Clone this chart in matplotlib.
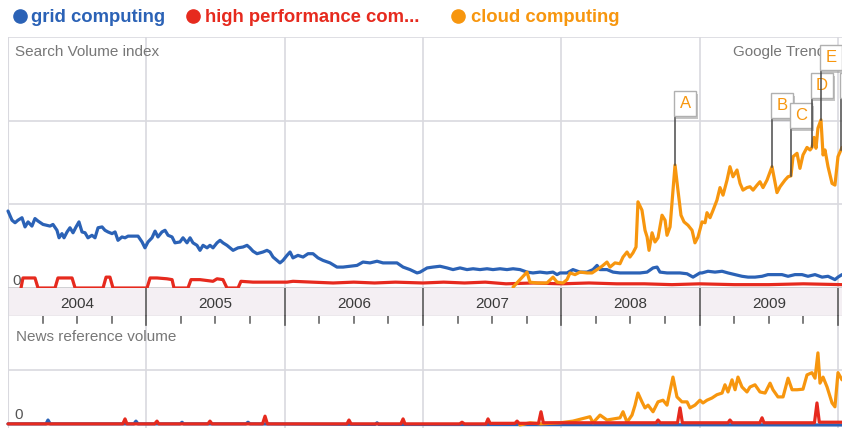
import matplotlib
matplotlib.use("Agg")
import matplotlib.pyplot as plt
import matplotlib.transforms as mtransforms
from matplotlib.lines import Line2D
from matplotlib.patches import Rectangle
import numpy as np

plt.rcParams["font.family"] = ["Liberation Sans", "DejaVu Sans"]

W, H = 842, 428
X0, X1 = 2004.0, 2010.029

BLUE = "#2b62b6"
RED = "#e62a1e"
ORANGE = "#f7960e"
GRID = "#d9d9df"

series_names = ["grid computing", "high performance com...", "cloud computing"]
years = [2004, 2005, 2006, 2007, 2008, 2009]

# search volume index (top panel)
grid_dates = [
    2004.000, 2004.029, 2004.051, 2004.072, 2004.101, 2004.123, 2004.145, 2004.173, 2004.195, 2004.217,
    2004.253, 2004.304, 2004.325, 2004.354, 2004.369, 2004.390, 2004.405, 2004.427, 2004.448, 2004.470,
    2004.492, 2004.513, 2004.535, 2004.557, 2004.578, 2004.607, 2004.629, 2004.651, 2004.680, 2004.701,
    2004.723, 2004.752, 2004.774, 2004.795, 2004.824, 2004.846, 2004.868, 2004.904, 2004.940, 2004.969,
    2004.990, 2005.012, 2005.041, 2005.063, 2005.084, 2005.113, 2005.135, 2005.157, 2005.186, 2005.207,
    2005.243, 2005.265, 2005.294, 2005.316, 2005.337, 2005.366, 2005.388, 2005.410, 2005.439, 2005.460,
    2005.482, 2005.511, 2005.533, 2005.554, 2005.583, 2005.605, 2005.627, 2005.663, 2005.699, 2005.728,
    2005.749, 2005.771, 2005.800, 2005.822, 2005.843, 2005.872, 2005.894, 2005.916, 2005.945, 2005.966,
    2005.988, 2006.017, 2006.039, 2006.060, 2006.096, 2006.133, 2006.169, 2006.205, 2006.241, 2006.277,
    2006.328, 2006.378, 2006.422, 2006.472, 2006.523, 2006.566, 2006.617, 2006.668, 2006.711, 2006.762,
    2006.812, 2006.856, 2006.906, 2006.957, 2006.979, 2007.030, 2007.072, 2007.123, 2007.174, 2007.217,
    2007.268, 2007.318, 2007.362, 2007.412, 2007.463, 2007.506, 2007.557, 2007.607, 2007.651, 2007.701,
    2007.752, 2007.795, 2007.846, 2007.896, 2007.940, 2007.969, 2007.991, 2008.041, 2008.084, 2008.135,
    2008.186, 2008.229, 2008.258, 2008.280, 2008.330, 2008.374, 2008.424, 2008.475, 2008.518, 2008.569,
    2008.620, 2008.663, 2008.692, 2008.713, 2008.764, 2008.807, 2008.858, 2008.909, 2008.952, 2009.002,
    2009.017, 2009.060, 2009.111, 2009.162, 2009.205, 2009.256, 2009.306, 2009.350, 2009.400, 2009.451,
    2009.494, 2009.545, 2009.595, 2009.639, 2009.689, 2009.740, 2009.783, 2009.834, 2009.885, 2009.928,
    2009.978, 2010.000, 2010.029,
]
grid_index = [
    0.92, 0.81, 0.78, 0.81, 0.84, 0.73, 0.79, 0.74, 0.83, 0.80,
    0.76, 0.74, 0.76, 0.69, 0.60, 0.65, 0.60, 0.67, 0.72, 0.66,
    0.73, 0.79, 0.67, 0.66, 0.60, 0.63, 0.60, 0.72, 0.73, 0.69,
    0.67, 0.65, 0.67, 0.57, 0.61, 0.60, 0.62, 0.62, 0.62, 0.55,
    0.48, 0.55, 0.60, 0.68, 0.61, 0.67, 0.69, 0.63, 0.61, 0.54,
    0.55, 0.60, 0.54, 0.60, 0.54, 0.51, 0.45, 0.51, 0.48, 0.51,
    0.48, 0.54, 0.57, 0.54, 0.51, 0.48, 0.45, 0.48, 0.49, 0.51,
    0.48, 0.44, 0.41, 0.42, 0.43, 0.45, 0.43, 0.37, 0.33, 0.30,
    0.33, 0.39, 0.43, 0.36, 0.39, 0.37, 0.41, 0.41, 0.36, 0.33,
    0.30, 0.25, 0.25, 0.26, 0.27, 0.31, 0.30, 0.32, 0.30, 0.30,
    0.30, 0.25, 0.22, 0.18, 0.19, 0.24, 0.25, 0.26, 0.24, 0.22,
    0.24, 0.22, 0.23, 0.22, 0.23, 0.22, 0.23, 0.22, 0.23, 0.22,
    0.19, 0.18, 0.19, 0.18, 0.19, 0.16, 0.18, 0.18, 0.22, 0.19,
    0.19, 0.22, 0.27, 0.22, 0.22, 0.19, 0.18, 0.18, 0.18, 0.18,
    0.19, 0.24, 0.25, 0.19, 0.18, 0.18, 0.18, 0.17, 0.13, 0.18,
    0.18, 0.20, 0.19, 0.20, 0.18, 0.16, 0.14, 0.13, 0.13, 0.14,
    0.16, 0.16, 0.16, 0.14, 0.16, 0.16, 0.14, 0.16, 0.13, 0.14,
    0.10, 0.13, 0.16,
]

hpc_dates = [
    2004.094, 2004.108, 2004.195, 2004.217, 2004.340, 2004.361, 2004.463, 2004.485, 2004.687, 2004.709,
    2004.737, 2004.759, 2005.005, 2005.027, 2005.077, 2005.149, 2005.186, 2005.200, 2005.301, 2005.323,
    2005.388, 2005.482, 2005.511, 2005.554, 2005.583, 2005.663, 2005.684, 2005.771, 2005.872, 2006.017,
    2006.060, 2006.200, 2006.350, 2006.500, 2006.650, 2006.800, 2007.000, 2007.150, 2007.300, 2007.450,
    2007.600, 2007.800, 2008.000, 2008.200, 2008.400, 2008.600, 2008.800, 2009.000, 2009.250, 2009.500,
    2009.750, 2010.029,
]
hpc_index = [
    0.00, 0.12, 0.12, 0.00, 0.00, 0.12, 0.12, 0.00, 0.00, 0.13,
    0.13, 0.00, 0.00, 0.12, 0.12, 0.11, 0.10, 0.00, 0.00, 0.10,
    0.10, 0.08, 0.11, 0.10, 0.00, 0.00, 0.08, 0.07, 0.07, 0.07,
    0.08, 0.07, 0.06, 0.07, 0.06, 0.07, 0.06, 0.07, 0.06, 0.07,
    0.05, 0.06, 0.05, 0.06, 0.05, 0.05, 0.04, 0.05, 0.04, 0.04,
    0.05, 0.04,
]

cloud_dates = [
    2007.651, 2007.701, 2007.752, 2007.773, 2007.824, 2007.868, 2007.896, 2007.940, 2007.969, 2008.012,
    2008.041, 2008.063, 2008.099, 2008.135, 2008.186, 2008.222, 2008.258, 2008.294, 2008.330, 2008.352,
    2008.388, 2008.424, 2008.446, 2008.475, 2008.496, 2008.518, 2008.540, 2008.554, 2008.583, 2008.605,
    2008.620, 2008.634, 2008.656, 2008.677, 2008.699, 2008.728, 2008.750, 2008.764, 2008.786, 2008.822,
    2008.843, 2008.865, 2008.887, 2008.916, 2008.945, 2008.966, 2008.988, 2009.017, 2009.039, 2009.053,
    2009.075, 2009.097, 2009.125, 2009.147, 2009.169, 2009.198, 2009.219, 2009.241, 2009.270, 2009.292,
    2009.313, 2009.342, 2009.364, 2009.386, 2009.415, 2009.436, 2009.458, 2009.487, 2009.523, 2009.559,
    2009.581, 2009.617, 2009.639, 2009.660, 2009.675, 2009.704, 2009.725, 2009.747, 2009.776, 2009.798,
    2009.812, 2009.827, 2009.841, 2009.855, 2009.877, 2009.892, 2009.906, 2009.928, 2009.957, 2009.978,
    2010.000, 2010.029,
]
cloud_index = [
    0.01, 0.10, 0.19, 0.07, 0.06, 0.06, 0.06, 0.13, 0.07, 0.06,
    0.10, 0.18, 0.16, 0.19, 0.18, 0.18, 0.22, 0.26, 0.31, 0.25,
    0.30, 0.29, 0.37, 0.43, 0.37, 0.42, 0.49, 1.03, 0.93, 0.69,
    0.61, 0.45, 0.66, 0.55, 0.60, 0.87, 0.81, 0.63, 0.73, 1.47,
    1.17, 0.87, 0.79, 0.75, 0.69, 0.54, 0.61, 0.79, 0.78, 0.90,
    0.84, 0.93, 1.05, 1.20, 1.11, 1.29, 1.45, 1.33, 1.41, 1.25,
    1.17, 1.20, 1.21, 1.17, 1.23, 1.27, 1.20, 1.29, 1.45, 1.14,
    1.21, 1.29, 1.33, 1.34, 1.57, 1.61, 1.43, 1.59, 1.68, 1.65,
    1.68, 1.80, 1.67, 1.91, 2.01, 1.59, 1.65, 1.45, 1.25, 1.23,
    1.57, 1.68,
]

# news events flagged on the cloud computing line
flag_labels = ["A", "B", "C", "D", "E", "F"]
flag_dates = [2008.822, 2009.523, 2009.660, 2009.812, 2009.877, 2010.022]
flag_heights = [2.06, 2.03, 1.91, 2.27, 2.61, 2.27]

# news reference volume (bottom panel)
news_grid_dates = [2004.0, 2004.275, 2004.289, 2004.305, 2004.91, 2004.925, 2004.94,
                   2005.245, 2005.258, 2005.27, 2005.72, 2005.735, 2005.75, 2006.655, 2006.668,
                   2006.68, 2010.029]
news_grid_vol = [0.02, 0.02, 0.09, 0.02, 0.02, 0.07, 0.02,
                 0.02, 0.05, 0.02, 0.02, 0.05, 0.02, 0.01, 0.04,
                 0.01, 0.0]

news_hpc_dates = [
    2004.0, 2004.83, 2004.846, 2004.86, 2005.06, 2005.077, 2005.09, 2005.445, 2005.46, 2005.475,
    2005.84, 2005.858, 2005.875, 2006.45, 2006.465, 2006.48, 2006.84, 2006.856, 2006.87, 2007.265,
    2007.282, 2007.3, 2007.455, 2007.47, 2007.485, 2007.665, 2007.68, 2007.695, 2007.835, 2007.853,
    2007.87, 2008.685, 2008.699, 2008.715, 2008.84, 2008.858, 2008.875, 2009.205, 2009.219, 2009.235,
    2009.435, 2009.451, 2009.465, 2009.83, 2009.848, 2009.865, 2010.029,
]
news_hpc_vol = [
    0.02, 0.02, 0.11, 0.02, 0.02, 0.07, 0.02, 0.02, 0.07, 0.02,
    0.02, 0.16, 0.02, 0.02, 0.09, 0.02, 0.02, 0.11, 0.02, 0.02,
    0.05, 0.02, 0.02, 0.11, 0.03, 0.03, 0.07, 0.03, 0.03, 0.24,
    0.04, 0.04, 0.09, 0.04, 0.04, 0.31, 0.04, 0.04, 0.09, 0.04,
    0.04, 0.13, 0.04, 0.04, 0.40, 0.05, 0.05,
]

news_cloud_dates = [
    2007.700, 2007.774, 2007.850, 2007.991, 2008.084, 2008.207, 2008.229, 2008.280, 2008.330, 2008.424,
    2008.446, 2008.475, 2008.511, 2008.533, 2008.554, 2008.583, 2008.605, 2008.627, 2008.663, 2008.699,
    2008.735, 2008.764, 2008.807, 2008.836, 2008.872, 2008.909, 2008.930, 2008.966, 2009.002, 2009.024,
    2009.053, 2009.089, 2009.125, 2009.162, 2009.183, 2009.205, 2009.234, 2009.256, 2009.277, 2009.306,
    2009.342, 2009.364, 2009.400, 2009.436, 2009.473, 2009.509, 2009.530, 2009.566, 2009.603, 2009.639,
    2009.668, 2009.704, 2009.747, 2009.776, 2009.812, 2009.834, 2009.855, 2009.870, 2009.892, 2009.921,
    2009.957, 2009.978, 2010.000, 2010.029,
]
news_cloud_vol = [
    0.00, 0.04, 0.02, 0.04, 0.07, 0.15, 0.04, 0.18, 0.09, 0.13,
    0.24, 0.05, 0.18, 0.36, 0.58, 0.42, 0.31, 0.36, 0.24, 0.42,
    0.45, 0.36, 0.87, 0.51, 0.42, 0.42, 0.31, 0.36, 0.45, 0.40,
    0.45, 0.49, 0.55, 0.58, 0.73, 0.60, 0.82, 0.64, 0.87, 0.69,
    0.60, 0.69, 0.73, 0.60, 0.58, 0.76, 0.64, 0.51, 0.51, 0.85,
    0.64, 0.64, 0.65, 0.91, 0.95, 0.85, 1.31, 0.76, 0.87, 0.69,
    0.40, 0.33, 0.95, 0.82,
]


def box(x0, y0, x1, y1):
    # pixel box (top-left origin) -> figure fraction rect
    return [x0 / W, 1 - y1 / H, (x1 - x0) / W, (y1 - y0) / H]


fig = plt.figure(figsize=(W / 100, H / 100), dpi=100)
fig.patch.set_facecolor("white")

ax = fig.add_axes(box(8, 37, W, 288))
band = fig.add_axes(box(8, 288, W, 316))
news = fig.add_axes(box(8, 316, W, 428))

for a in (ax, band, news):
    a.set_xlim(X0, X1)
    a.axis("off")
ax.set_ylim(0, 3)
band.set_ylim(0, 1)
news.set_ylim(-0.055, 1.98)

# grid lines
for a, levels in ((ax, [1, 2, 3]), (news, [1])):
    for lv in levels:
        a.axhline(lv, color=GRID, lw=1.2, zorder=0)
    for yr in years[1:] + [2010]:
        a.axvline(yr, color=GRID, lw=1.2, zorder=0)
    a.axvline(X0, color=GRID, lw=1.5, zorder=0)
ax.axhline(0, color="#c8c8cc", lw=1.2, zorder=0)

# date band
band.axhspan(0, 1, color="#f4eff3", zorder=0)
band.axhline(0, color="#cfcfd4", lw=1)
band.axvline(X0, color=GRID, lw=1.5)
for yr in years:
    band.text(yr + 0.5, 0.42, str(yr), ha="center", va="center", fontsize=11, color="#3a3a3a")
xt = news.get_xaxis_transform()
for yr in years[1:] + [2010]:
    band.axvline(yr, color="#5a5a5a", lw=1.2)
    news.plot([yr, yr], [1.0, 1 - 9 / 112], transform=xt, color="#5a5a5a", lw=1.2, clip_on=False)
for yr in years:
    for q in (0.25, 0.5, 0.75):
        news.plot([yr + q, yr + q], [1.0, 1 - 7 / 112], transform=xt, color="#5a5a5a", lw=1.1)

# series
lk = dict(lw=2.3, solid_joinstyle="round", solid_capstyle="round", clip_on=False)
ax.plot(grid_dates, grid_index, color=BLUE, zorder=3, **lk)
ax.plot(hpc_dates, hpc_index, color=RED, zorder=4, **lk)
ax.plot(cloud_dates, cloud_index, color=ORANGE, zorder=5, **lk)

news.plot(news_grid_dates, news_grid_vol, color=BLUE, zorder=3, **lk)
news.plot(news_cloud_dates, news_cloud_vol, color=ORANGE, zorder=4, **lk)
news.plot(news_hpc_dates, news_hpc_vol, color=RED, zorder=5, **lk)

# panel captions
ax.text(0.0108, 0.028, "0", transform=ax.transAxes, ha="center", va="center", fontsize=11, color="#555")
news.text(0.013, 0.116, "0", transform=news.transAxes, ha="center", va="center", fontsize=11, color="#555")
ax.text(15 / W, 1 - 52 / H, "Search Volume index", transform=fig.transFigure, ha="left", va="center",
        fontsize=11, color="#777", zorder=1, clip_on=False)
news.text(16 / W, 1 - 337 / H, "News reference volume", transform=fig.transFigure, ha="left",
          va="center", fontsize=11, color="#777", zorder=1, clip_on=False)
ax.text(733 / W, 1 - 52 / H, "Google Trends", transform=fig.transFigure, ha="left", va="center",
        fontsize=11, color="#777", zorder=1, clip_on=False)

# flags
tips = np.interp(flag_dates, cloud_dates, cloud_index)
for i, (lab, fx, top, tip) in enumerate(zip(flag_labels, flag_dates, flag_heights, tips)):
    z = 10 + 2 * i
    ax.plot([fx, fx], [tip, top], color="#4a4a4a", lw=1.1, zorder=z, clip_on=False)
    tr = fig.dpi_scale_trans + mtransforms.ScaledTranslation(fx, top, ax.transData)
    ax.add_patch(Rectangle((0.01, -0.03), 0.22, 0.25, transform=tr, fc="#8c8c8c", ec="none",
                           alpha=0.5, zorder=z + 1, clip_on=False))
    ax.add_patch(Rectangle((-0.01, 0.0), 0.22, 0.25, transform=tr, fc="white", ec="#b0b0b0",
                           lw=1, zorder=z + 1, clip_on=False))
    ax.text(0.10, 0.125, lab, transform=tr, ha="center", va="center", fontsize=12,
            color=ORANGE, zorder=z + 1.5, clip_on=False)

# legend row
legend_x = [(20, 31), (193, 205), (458, 471)]
for (cx, tx), name, col in zip(legend_x, series_names, [BLUE, RED, ORANGE]):
    fig.add_artist(Line2D([cx / W], [1 - 16 / H], marker="o", markersize=9.5, color=col,
                          transform=fig.transFigure))
    fig.text(tx / W, 1 - 17 / H, name, ha="left", va="center", fontsize=13.3,
             fontweight="bold", color=col)

fig.savefig("out.png", dpi=100)
